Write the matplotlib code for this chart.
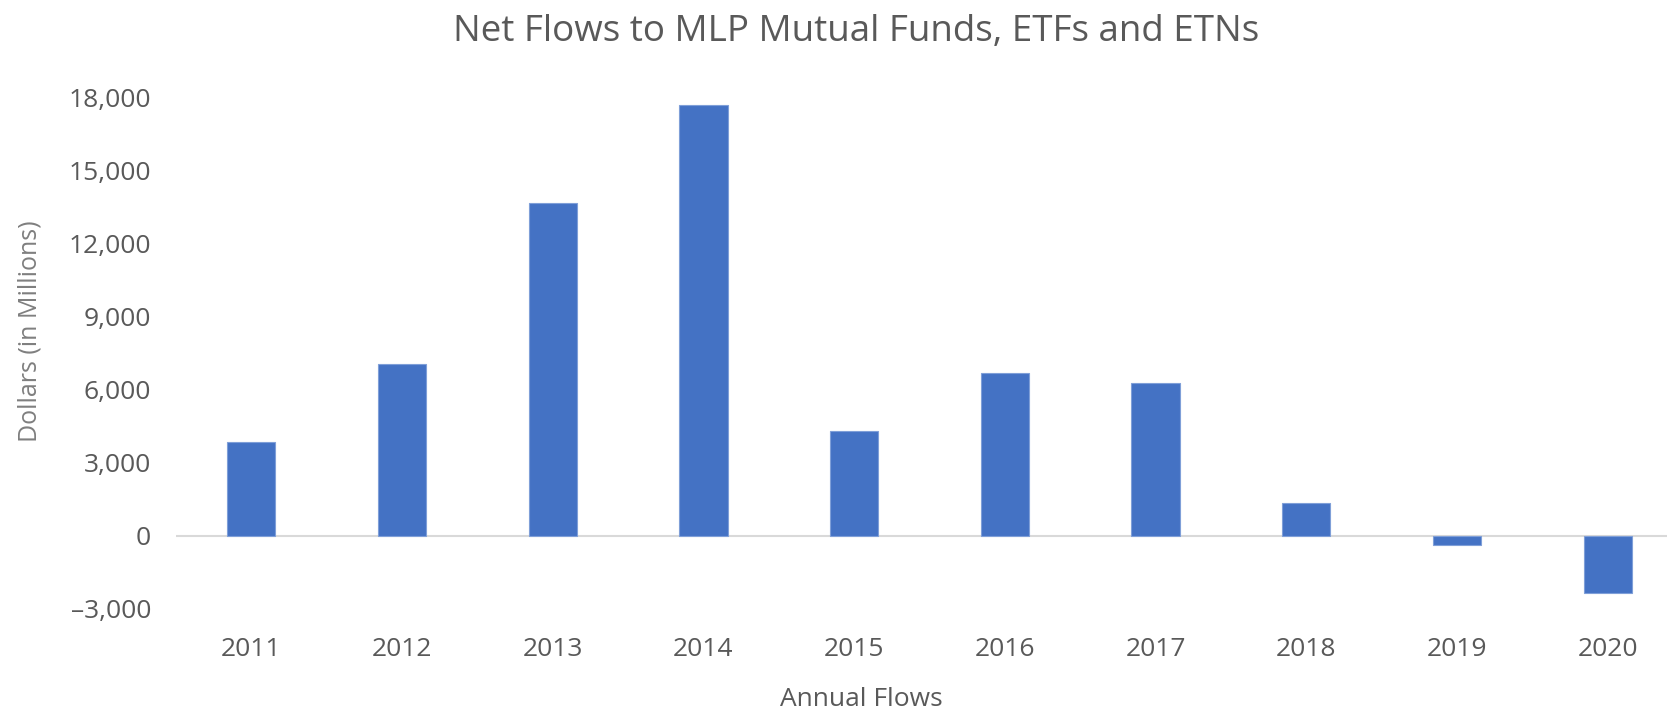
import matplotlib
matplotlib.use("Agg")
import matplotlib.pyplot as plt
from matplotlib.ticker import FuncFormatter

# net flows, $ millions
years = ["2011", "2012", "2013", "2014", "2015", "2016", "2017", "2018", "2019", "2020"]
flows = [3870, 7080, 13670, 17700, 4300, 6680, 6270, 1340, -360, -2340]
y_ticks = [-3000, 0, 3000, 6000, 9000, 12000, 15000, 18000]

plt.rcParams['font.family'] = ['Open Sans', 'DejaVu Sans']

fig = plt.figure(figsize=(16.67, 7.13), dpi=100)
ax = fig.add_axes([0.1056, 0.1459, 0.8944, 0.7167])

x = range(len(years))
ax.bar(x, flows, width=0.32, color='#4472C4', edgecolor='#7F9FD8', linewidth=0.8, zorder=3)
ax.axhline(0, color='#D9D9D9', linewidth=1.5, zorder=2)

ax.set_xlim(-0.5, 9.394)
ax.set_ylim(-3000, 18000)
ax.set_xticks(list(x))
ax.set_xticklabels(years)
ax.set_yticks(y_ticks)
ax.yaxis.set_major_formatter(FuncFormatter(lambda v, p: f"{v:,.0f}".replace('-', '\u2013')))

for s in ax.spines.values():
    s.set_visible(False)
ax.tick_params(axis='both', length=0, labelsize=19, labelcolor='#595959')
ax.tick_params(axis='y', pad=18)
ax.tick_params(axis='x', pad=20)

fig.text(856 / 1667, 1 - 32 / 713, "Net Flows to MLP Mutual Funds, ETFs and ETNs",
         ha='center', va='center', fontsize=26.5, color='#595959')
fig.text(30 / 1667, 1 - 331 / 713, "Dollars (in Millions)", rotation=90,
         ha='center', va='center', fontsize=18, color='#7F7F7F')
fig.text(861 / 1667, 1 - 699 / 713, "Annual Flows",
         ha='center', va='center', fontsize=19, color='#595959')

fig.savefig("out.png", dpi=100)
